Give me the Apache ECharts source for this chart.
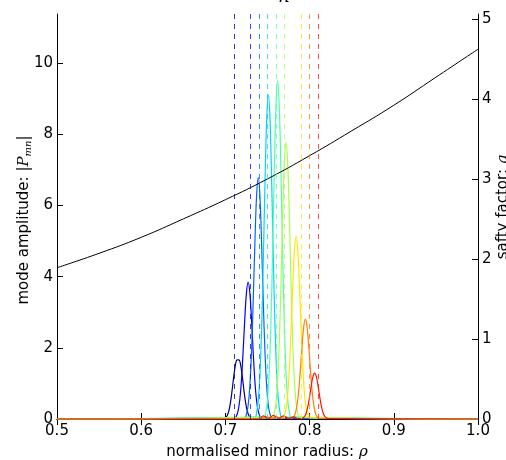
<!DOCTYPE html>
<html>
<head>
<meta charset="utf-8">
<script src="https://cdn.jsdelivr.net/npm/echarts@6/dist/echarts.min.js"></script>
<style>
  html, body { margin: 0; padding: 0; background: #fff; }
  #chart { width: 506px; height: 460px; }
</style>
</head>
<body>
<div id="chart"></div>
<script>
// radial positions of the rational surfaces (dashed lines)
var surfaceRho = [0.7122, 0.7253, 0.7384, 0.7502, 0.7621, 0.774, 0.7866, 0.7977, 0.8088];
var modeColors = ['#00007f', '#0000ff', '#0063ff', '#00d4ff', '#4dffad', '#a9ff4d', '#ffe600', '#ff7d00', '#ff1400'];

// mode amplitude |P_mn|, [rho, amplitude]
var mode1 = [[0.5, 0], [0.698, 0.01], [0.700, 0.03], [0.702, 0.09], [0.704, 0.22], [0.706, 0.46], [0.708, 0.81], [0.710, 1.21], [0.712, 1.53], [0.714, 1.66], [0.716, 1.66], [0.718, 1.53], [0.720, 1.21], [0.722, 0.81], [0.724, 0.46], [0.726, 0.22], [0.728, 0.09], [0.730, 0.03], [0.732, 0.01], [1.0, 0]];
var mode2 = [[0.5, 0], [0.711, 0.02], [0.713, 0.08], [0.715, 0.22], [0.717, 0.52], [0.719, 1.07], [0.721, 1.88], [0.723, 2.80], [0.725, 3.55], [0.727, 3.85], [0.729, 3.55], [0.731, 2.80], [0.733, 1.88], [0.735, 1.07], [0.737, 0.52], [0.739, 0.22], [0.741, 0.08], [0.743, 0.02], [1.0, 0]];
var mode3 = [[0.5, 0], [0.723, 0.04], [0.725, 0.14], [0.727, 0.38], [0.729, 0.92], [0.731, 1.88], [0.733, 3.30], [0.735, 4.92], [0.737, 6.26], [0.739, 6.78], [0.741, 6.26], [0.743, 4.92], [0.745, 3.30], [0.747, 1.88], [0.749, 0.92], [0.751, 0.38], [0.753, 0.14], [0.755, 0.04], [1.0, 0]];
var mode4 = [[0.5, 0], [0.735, 0.05], [0.737, 0.18], [0.739, 0.51], [0.741, 1.23], [0.743, 2.53], [0.745, 4.44], [0.747, 6.61], [0.749, 8.41], [0.751, 9.11], [0.753, 8.41], [0.755, 6.61], [0.757, 4.44], [0.759, 2.53], [0.761, 1.23], [0.763, 0.51], [0.765, 0.18], [0.767, 0.05], [1.0, 0]];
var mode5 = [[0.5, 0], [0.746, 0.06], [0.748, 0.19], [0.750, 0.53], [0.752, 1.28], [0.754, 2.64], [0.756, 4.63], [0.758, 6.90], [0.760, 8.77], [0.762, 9.50], [0.764, 8.77], [0.766, 6.90], [0.768, 4.63], [0.770, 2.64], [0.772, 1.28], [0.774, 0.53], [0.776, 0.19], [0.778, 0.06], [1.0, 0]];
var mode6 = [[0.5, 0], [0.756, 0.05], [0.758, 0.16], [0.760, 0.44], [0.762, 1.05], [0.764, 2.16], [0.766, 3.78], [0.768, 5.64], [0.770, 7.17], [0.772, 7.77], [0.774, 7.17], [0.776, 5.64], [0.778, 3.78], [0.780, 2.16], [0.782, 1.05], [0.784, 0.44], [0.786, 0.16], [0.788, 0.05], [1.0, 0]];
var mode7 = [[0.5, 0], [0.768, 0.03], [0.770, 0.10], [0.772, 0.29], [0.774, 0.69], [0.776, 1.43], [0.778, 2.50], [0.780, 3.72], [0.782, 4.73], [0.784, 5.13], [0.786, 4.73], [0.788, 3.72], [0.790, 2.50], [0.792, 1.43], [0.794, 0.69], [0.796, 0.29], [0.798, 0.10], [0.800, 0.03], [1.0, 0]];
var mode8 = [[0.5, 0], [0.742, 0], [0.748, 0.07], [0.754, 0.01], [0.760, 0.07], [0.766, 0.01], [0.772, 0.05], [0.777, 0.01], [0.779, 0.02], [0.781, 0.06], [0.783, 0.16], [0.785, 0.38], [0.787, 0.78], [0.789, 1.37], [0.791, 2.04], [0.793, 2.59], [0.795, 2.81], [0.797, 2.59], [0.799, 2.04], [0.801, 1.37], [0.803, 0.78], [0.805, 0.38], [0.807, 0.16], [0.809, 0.06], [0.811, 0.02], [1.0, 0]];
var mode9 = [[0.5, 0], [0.740, 0], [0.745, 0.09], [0.751, 0.01], [0.757, 0.10], [0.763, 0.01], [0.769, 0.09], [0.775, 0.01], [0.781, 0.06], [0.787, 0.0], [0.790, 0.01], [0.792, 0.03], [0.794, 0.07], [0.796, 0.17], [0.798, 0.36], [0.800, 0.63], [0.802, 0.94], [0.804, 1.19], [0.806, 1.29], [0.808, 1.19], [0.810, 0.94], [0.812, 0.63], [0.814, 0.36], [0.816, 0.17], [0.818, 0.07], [0.820, 0.03], [0.822, 0.01], [1.0, 0]];
var modes = [mode1, mode2, mode3, mode4, mode5, mode6, mode7, mode8, mode9];

// safety factor profile q(rho)
var qRho = [0.5, 0.55, 0.6, 0.65, 0.7, 0.75, 0.8, 0.85, 0.9, 0.95, 1.0];
var qVal = [1.89, 2.07, 2.27, 2.50, 2.74, 3.00, 3.29, 3.60, 3.92, 4.27, 4.62];

var font = 'DejaVu Sans';
var myChart = echarts.init(document.getElementById('chart'));

var series = [];
modes.forEach(function (m, i) {
    series.push({
        type: 'line',
        data: m,
        xAxisIndex: 0,
        yAxisIndex: 0,
        showSymbol: false,
        smooth: 0.4,
        lineStyle: { color: modeColors[i], width: 1.2 },
        markLine: {
            silent: true,
            symbol: 'none',
            label: { show: false },
            lineStyle: { color: modeColors[i], type: [5, 5], width: 1, opacity: 0.75 },
            data: [{ xAxis: surfaceRho[i] }]
        },
        z: 2
    });
});
series.push({
    type: 'line',
    data: qRho.map(function (r, i) { return [r, qVal[i]]; }),
    xAxisIndex: 0,
    yAxisIndex: 1,
    showSymbol: false,
    smooth: true,
    lineStyle: { color: '#000', width: 1 },
    z: 3
});

var tickLine = { show: true, lineStyle: { color: '#000', width: 1 } };

option = {
    animation: false,
    backgroundColor: '#fff',
    grid: { left: 57, right: 28, top: 14, bottom: 41 },
    xAxis: [{
        type: 'value',
        min: 0.5,
        max: 1.0,
        interval: 0.1,
        axisLine: tickLine,
        axisTick: { show: true, inside: true, length: 6, lineStyle: { color: '#000' } },
        axisLabel: { color: '#000', fontFamily: font, fontSize: 15, margin: 5,
            formatter: function (v) { return v.toFixed(1); } },
        splitLine: { show: false }
    }, {
        type: 'value',
        position: 'top',
        min: 0.5,
        max: 1.0,
        interval: 0.1,
        axisLine: tickLine,
        axisTick: { show: true, inside: true, length: 6, lineStyle: { color: '#000' } },
        axisLabel: { show: false },
        splitLine: { show: false }
    }],
    yAxis: [{
        type: 'value',
        min: 0,
        max: 11.38,
        interval: 2,
        axisLine: tickLine,
        axisTick: { show: true, inside: true, length: 6, lineStyle: { color: '#000' } },
        axisLabel: { color: '#000', fontFamily: font, fontSize: 15, margin: 4, showMaxLabel: false },
        splitLine: { show: false }
    }, {
        type: 'value',
        position: 'right',
        min: 0,
        max: 5.06,
        interval: 1,
        axisLine: tickLine,
        axisTick: { show: true, inside: true, length: 6, lineStyle: { color: '#000' } },
        axisLabel: { color: '#000', fontFamily: font, fontSize: 15, margin: 4, showMaxLabel: false },
        splitLine: { show: false }
    }],
    graphic: [{
        type: 'text',
        x: 267,
        y: 452,
        style: {
            text: 'normalised minor radius: {it|ρ}',
            rich: { it: { fontFamily: 'DejaVu Serif', fontStyle: 'italic', fontSize: 15 } },
            font: '15px DejaVu Sans',
            fill: '#000',
            align: 'center',
            verticalAlign: 'middle'
        }
    }, {
        type: 'text',
        x: 24,
        y: 220,
        rotation: Math.PI / 2,
        style: {
            text: 'mode amplitude: |{it|P}{sub|mn}|',
            rich: {
                it: { fontFamily: 'DejaVu Serif', fontStyle: 'italic', fontSize: 15 },
                sub: { fontFamily: 'DejaVu Serif', fontStyle: 'italic', fontSize: 10, padding: [8, 0, 0, 0] }
            },
            font: '15px DejaVu Sans',
            fill: '#000',
            align: 'center',
            verticalAlign: 'middle'
        }
    }, {
        type: 'text',
        x: 503,
        y: 207,
        rotation: Math.PI / 2,
        style: {
            text: 'safty factor: {it|q}',
            rich: { it: { fontFamily: 'DejaVu Serif', fontStyle: 'italic', fontSize: 15 } },
            font: '15px DejaVu Sans',
            fill: '#000',
            align: 'center',
            verticalAlign: 'middle'
        }
    }, {
        type: 'text',
        x: 284,
        y: 6,
        style: {
            text: 'n',
            font: 'italic 18px DejaVu Serif',
            fill: '#000',
            align: 'center',
            verticalAlign: 'bottom'
        }
    }],
    series: series
};

myChart.setOption(option);
</script>
</body>
</html>
